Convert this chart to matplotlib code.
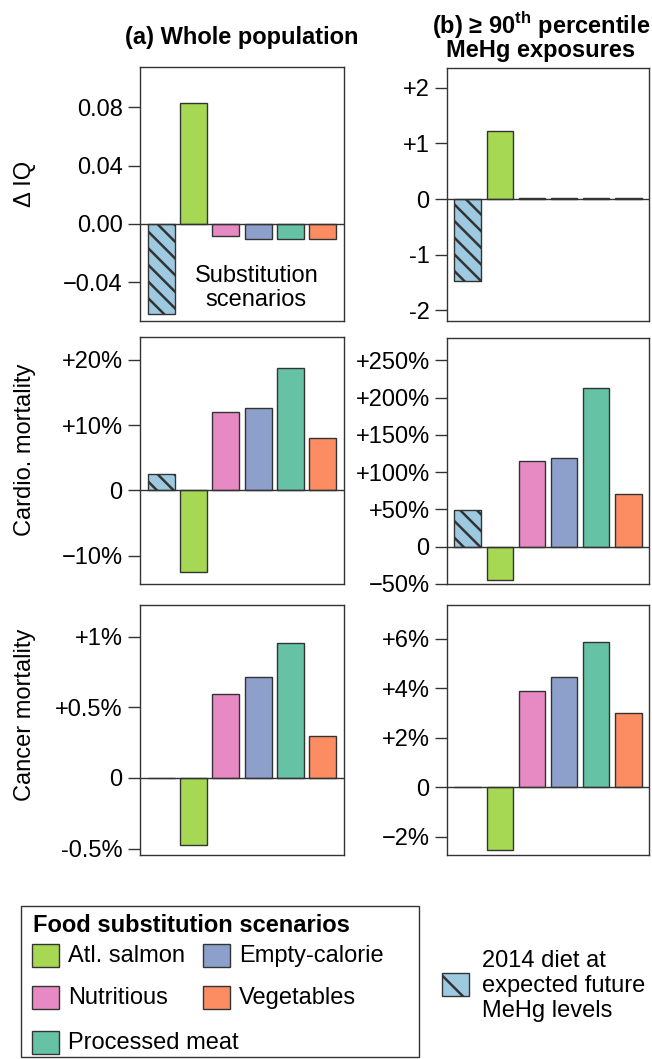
import matplotlib.pyplot as plt
from matplotlib.patches import Rectangle

plt.rcParams['font.family'] = ['Liberation Sans', 'DejaVu Sans']
plt.rcParams['mathtext.fontset'] = 'custom'
plt.rcParams['mathtext.rm'] = 'Liberation Sans'
plt.rcParams['mathtext.bf'] = 'Liberation Sans:bold'
plt.rcParams['hatch.linewidth'] = 1.8
plt.rcParams['hatch.color'] = 'black'

# scenarios (first = 2014 diet at expected future MeHg levels, hatched)
scenarios = ['2014 diet', 'Atl. salmon', 'Nutritious', 'Empty-calorie', 'Processed meat', 'Vegetables']
colors = ['#9ECAE1', '#A6D854', '#E78AC3', '#8DA0CB', '#66C2A5', '#FC8D62']

# values
iq_all = [-0.0617, 0.0832, -0.0084, -0.0101, -0.0101, -0.0101]
iq_p90 = [-1.47, 1.23, 0.012, 0.012, 0.012, 0.012]
cardio_all = [2.5, -12.5, 12.0, 12.55, 18.8, 8.0]
cardio_p90 = [49, -45.6, 115, 119, 213, 70.6]
cancer_all = [0, -0.472, 0.591, 0.716, 0.957, 0.30]
cancer_p90 = [0, -2.53, 3.88, 4.44, 5.89, 2.99]

# tick labels per panel
iq_all_ticks = [0.08, 0.04, 0.0, -0.04]
iq_all_labels = ['0.08', '0.04', '0.00', '\u22120.04']
iq_p90_ticks = [2, 1, 0, -1, -2]
iq_p90_labels = ['+2', '+1', '0', '-1', '-2']
cardio_all_ticks = [20, 10, 0, -10]
cardio_all_labels = ['+20%', '+10%', '0', '\u221210%']
cardio_p90_ticks = [250, 200, 150, 100, 50, 0, -50]
cardio_p90_labels = ['+250%', '+200%', '+150%', '+100%', '+50%', '0', '\u221250%']
cancer_all_ticks = [1, 0.5, 0, -0.5]
cancer_all_labels = ['+1%', '+0.5%', '0', '-0.5%']
cancer_p90_ticks = [6, 4, 2, 0, -2]
cancer_p90_labels = ['+6%', '+4%', '+2%', '0', '\u22122%']

legend_labels = ['Atl. salmon', 'Empty-calorie', 'Nutritious', 'Vegetables', 'Processed meat']
legend_colors = ['#A6D854', '#8DA0CB', '#E78AC3', '#FC8D62', '#66C2A5']

W, H = 652, 1059
fig = plt.figure(figsize=(W / 100, H / 100), dpi=100)

def fx(x):
    return x / W

def fy(y):
    return 1 - y / H

edge = '#333333'
fs = 17

def panel(x0, x1, y0, y1, vals, ticks, labels, ylim):
    ax = fig.add_axes([fx(x0), fy(y1), (x1 - x0) / W, (y1 - y0) / H])
    xs = [0.7 + 1.2 * i for i in range(len(vals))]
    bars = ax.bar(xs, vals, width=1.0, color=colors, edgecolor=edge, linewidth=1, zorder=2)
    bars[0].set_hatch('\\\\')
    ax.axhline(0, color=edge, lw=1, zorder=3)
    ax.set_xlim(-0.08, 7.48)
    ax.set_ylim(*ylim)
    ax.set_xticks([])
    ax.set_yticks(ticks)
    ax.set_yticklabels(labels, fontsize=fs)
    ax.tick_params(axis='y', length=8.5, width=1, color=edge, pad=4)
    for s in ax.spines.values():
        s.set_color(edge)
        s.set_linewidth(1)
    return ax

ax1 = panel(140, 344, 67, 321, iq_all, iq_all_ticks, iq_all_labels, (-0.0666, 0.1077))
ax2 = panel(447, 649, 68, 321, iq_p90, iq_p90_ticks, iq_p90_labels, (-2.19, 2.356))
ax3 = panel(140, 344, 337, 584, cardio_all, cardio_all_ticks, cardio_all_labels, (-14.35, 23.5))
ax4 = panel(447, 649, 338, 584, cardio_p90, cardio_p90_ticks, cardio_p90_labels, (-50.3, 280))
ax5 = panel(140, 344, 605, 855, cancer_all, cancer_all_ticks, cancer_all_labels, (-0.546, 1.225))
ax6 = panel(447, 649, 605, 855, cancer_p90, cancer_p90_ticks, cancer_p90_labels, (-2.747, 7.37))

ax1.text(0.57, 0.13, 'Substitution\nscenarios', transform=ax1.transAxes, ha='center', va='center',
         fontsize=fs, linespacing=1.1)

# titles
fig.text(fx(242), fy(44), '(a) Whole population', ha='center', va='baseline', fontsize=fs,
         fontweight='bold')
fig.text(fx(541), fy(36), '(b) ≥ 90$^{\\mathbf{th}}$ percentile\nMeHg exposures', ha='center',
         va='center', multialignment='center', fontsize=fs, fontweight='bold', linespacing=0.9)

# row labels
fig.text(fx(25), fy(184), '\u0394 IQ', rotation=90, ha='center', va='center', fontsize=fs)
fig.text(fx(25), fy(450), 'Cardio. mortality', rotation=90, ha='center', va='center', fontsize=fs)
fig.text(fx(25), fy(715), 'Cancer mortality', rotation=90, ha='center', va='center', fontsize=fs)

# legend box
fig.patches.append(Rectangle((fx(21), fy(1057)), (419 - 21) / W, (1057 - 906) / H,
                             transform=fig.transFigure, fill=False, edgecolor=edge, lw=1))
fig.text(fx(33), fy(925), 'Food substitution scenarios', ha='left', va='center', fontsize=fs,
         fontweight='bold')
pos = [(32, 944), (203, 944), (32, 986), (203, 986), (32, 1031)]
for (px, py), lab, col in zip(pos, legend_labels, legend_colors):
    fig.patches.append(Rectangle((fx(px), fy(py + 23)), 27 / W, 23 / H, transform=fig.transFigure,
                                 facecolor=col, edgecolor=edge, lw=1))
    fig.text(fx(px + 36), fy(py + 12), lab, ha='left', va='center', fontsize=fs)

fig.patches.append(Rectangle((fx(442), fy(996)), 27 / W, 23 / H, transform=fig.transFigure,
                             facecolor=colors[0], edgecolor=edge, lw=1, hatch='\\'))
fig.text(fx(482), fy(986), '2014 diet at\nexpected future\nMeHg levels', ha='left', va='center',
         fontsize=fs, linespacing=1.2)

fig.savefig('out.png', dpi=100)
